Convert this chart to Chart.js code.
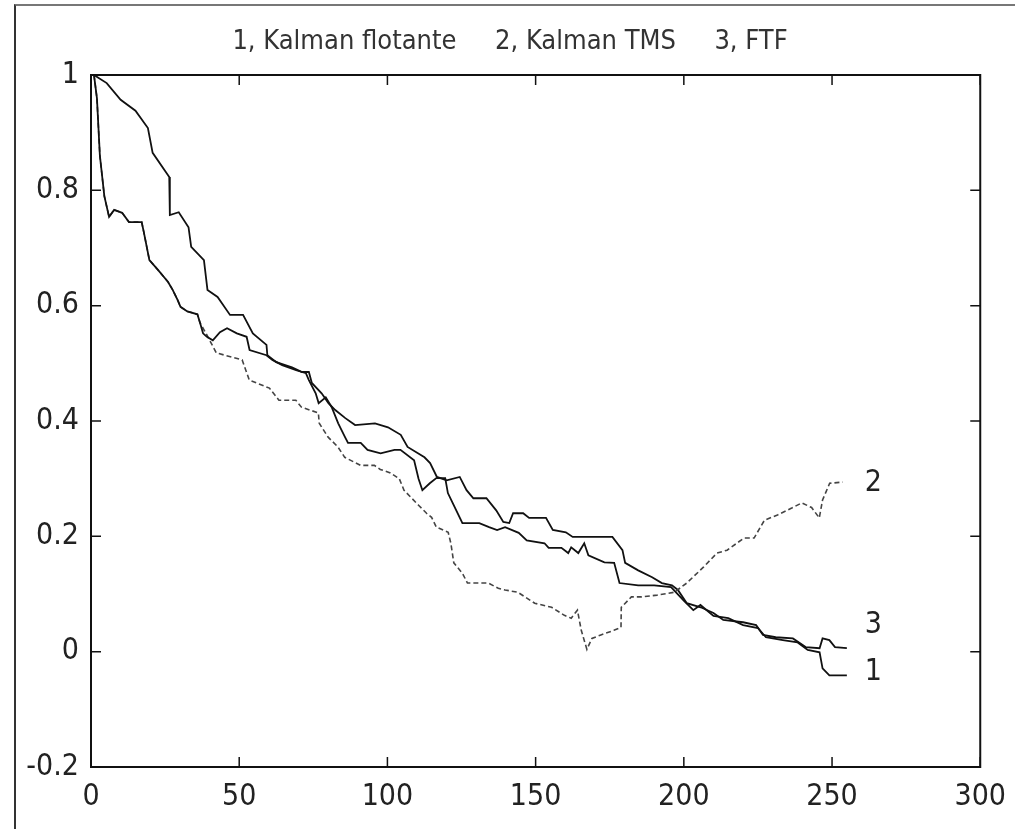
<!DOCTYPE html>
<html>
<head>
<meta charset="utf-8">
<script src="https://cdn.jsdelivr.net/npm/chart.js@4.4.1/dist/chart.umd.min.js"></script>
<style>
    html, body { margin: 0; padding: 0; background: #fff; }
    #caixa { position: relative; width: 1018px; height: 832px; }
    #moldura { position: absolute; left: 14px; top: 4px; right: 3px; bottom: 3px;
               border-left: 2px solid #333; border-top: 2px solid #777; }
    canvas { position: absolute; left: 0; top: 0; }
</style>
</head>
<body>
<div id="caixa">
    <div id="moldura"></div>
    <canvas id="graficoKalman" width="1018" height="832"></canvas>
</div>
<script>
// Eixos
const xTicks = [0, 50, 100, 150, 200, 250, 300];
const yTicks = [-0.2, 0, 0.2, 0.4, 0.6, 0.8, 1];

const titulo = "1, Kalman flotante     2, Kalman TMS     3, FTF";

// 1 - Kalman flotante
const x1 = [1, 2, 3, 4.5, 6.1, 7.8, 10.5, 12.8, 17.1, 17.8, 19.7, 22.6, 26, 27.6, 29.2, 30.2, 32.5, 35.9,
    36.8, 37.8, 39.1, 41.1, 43.5, 45.9, 49.2, 52.5, 53.5, 59.2, 61.2, 64.5, 69.2, 72.5, 73.5, 75.8, 76.8,
    79.2, 81.2, 83.4, 85.7, 86.7, 91, 93.3, 97.7, 102.4, 104.4, 109, 110.5, 111.8, 114.3, 116.5, 119.5,
    120.4, 122, 125.3, 131, 134.3, 137, 139.7, 144.3, 147, 153, 154.4, 158.7, 161, 162, 164.4, 166.4,
    167.8, 173.2, 176.5, 178.3, 184.6, 190, 195.7, 199.9, 203.2, 205.6, 210, 215, 220, 225, 227.7,
    233.4, 238.4, 241.8, 245.8, 246.8, 249.1, 255];
const y1 = [1.0, 0.96, 0.86, 0.79, 0.754, 0.766, 0.761, 0.745, 0.745, 0.728, 0.679, 0.662, 0.641, 0.627, 0.61, 0.598, 0.59, 0.585,
    0.57, 0.552, 0.546, 0.54, 0.554, 0.561, 0.552, 0.546, 0.523, 0.514, 0.506, 0.497, 0.488, 0.483, 0.471, 0.448, 0.431,
    0.441, 0.424, 0.396, 0.372, 0.362, 0.362, 0.35, 0.344, 0.35, 0.35, 0.332, 0.30, 0.28, 0.292, 0.301, 0.301,
    0.275, 0.258, 0.223, 0.223, 0.216, 0.211, 0.216, 0.206, 0.193, 0.188, 0.18, 0.18, 0.171, 0.181, 0.171, 0.188,
    0.167, 0.155, 0.154, 0.119, 0.115, 0.115, 0.112, 0.089, 0.072, 0.081, 0.062, 0.058, 0.046, 0.041, 0.025,
    0.02, 0.016, 0.003, -0.001, -0.029, -0.041, -0.041];

// 2 - Kalman TMS
const x2 = [1, 2, 3, 4.5, 6.1, 7.8, 10.5, 12.8, 17.1, 17.8, 19.7, 22.6, 26, 27.6, 29.2, 30.2, 32.5, 35.9,
    36.8, 39, 42.3, 51, 53.4, 60.2, 63.4, 69.1, 71, 76.7, 77, 80, 83.3, 85.6, 91, 95.6, 97.6, 101, 104,
    105.6, 110.5, 113.2, 114.9, 116.5, 120.5, 121.4, 122.4, 125.3, 127, 134, 137.4, 139.7, 144, 149.7,
    155.4, 159.7, 162, 164.1, 165.4, 167.3, 169, 172, 176.4, 178.8, 178.9, 182.3, 185.7, 191, 196.8,
    201, 206.7, 211.2, 214.6, 220.3, 223.7, 227.2, 231.6, 236.4, 239.8, 243.1, 245.7, 246.8, 249.2, 253.6];
const y2 = [1.0, 0.96, 0.86, 0.79, 0.754, 0.766, 0.761, 0.745, 0.745, 0.728, 0.679, 0.662, 0.641, 0.627, 0.61, 0.598, 0.59, 0.585,
    0.57, 0.55, 0.518, 0.506, 0.471, 0.457, 0.436, 0.436, 0.424, 0.414, 0.396, 0.372, 0.355, 0.337, 0.323, 0.323, 0.316, 0.31, 0.3,
    0.28, 0.254, 0.24, 0.233, 0.216, 0.207, 0.188, 0.154, 0.136, 0.119, 0.119, 0.11, 0.107, 0.103, 0.084,
    0.077, 0.063, 0.058, 0.072, 0.037, 0.004, 0.023, 0.029, 0.037, 0.042, 0.077, 0.095, 0.095, 0.098, 0.103,
    0.119, 0.147, 0.171, 0.176, 0.197, 0.197, 0.228, 0.237, 0.249, 0.258, 0.25, 0.232, 0.263, 0.292, 0.294];

// 3 - FTF
const x3 = [1, 5.3, 10, 15, 19.2, 20.8, 26.4, 26.6, 29.6, 32.9, 33.8, 38.1, 39.3, 42.7, 46.9, 51.3, 54.6,
    59.2, 59.5, 62.5, 67.8, 71.2, 73.5, 74.5, 77.8, 80.1, 82.4, 85.8, 89.1, 95.8, 100.2, 104.5, 106.8,
    112.5, 114.4, 116.7, 120, 124.4, 126.7, 129, 133.4, 136.7, 139.1, 141.1, 142.4, 145.8, 147.8, 153.5,
    155.8, 160.2, 162.5, 175.9, 179.3, 180.2, 184.6, 189.3, 192.6, 196, 198, 201, 205.7, 210, 213.3,
    220, 224.4, 226.7, 231, 236.8, 241.1, 245.8, 246.8, 249.1, 251, 255];
const y3 = [1.0, 0.986, 0.957, 0.938, 0.908, 0.865, 0.823, 0.757, 0.762, 0.736, 0.702, 0.679, 0.627, 0.615, 0.584, 0.584, 0.552,
    0.532, 0.514, 0.502, 0.493, 0.485, 0.485, 0.466, 0.448, 0.431, 0.419, 0.405, 0.393, 0.396, 0.389, 0.376, 0.355,
    0.337, 0.327, 0.303, 0.297, 0.303, 0.28, 0.266, 0.266, 0.245, 0.225, 0.223, 0.24, 0.24, 0.232, 0.232,
    0.211, 0.207, 0.199, 0.199, 0.176, 0.154, 0.141, 0.129, 0.119, 0.115, 0.107, 0.084, 0.077, 0.067, 0.055,
    0.051, 0.046, 0.029, 0.025, 0.023, 0.008, 0.006, 0.023, 0.02, 0.008, 0.006];

// rótulos das curvas (1, 2, 3) no fim de cada uma
const rotulos = ["1", "2", "3"];
const rotuloX = [261, 261, 261];
const rotuloY = [-0.036, 0.293, 0.046];

const fonte = "'Liberation Sans Narrow', 'DejaVu Sans Condensed', 'Liberation Sans', sans-serif";

function pontos(xs, ys) {
    return xs.map((x, i) => ({ x: x, y: ys[i] }));
}

// moldura, marcas internas, título e rótulos
const marcas = {
    id: "marcas",
    afterDraw(chart) {
        const ctx = chart.ctx;
        const a = chart.chartArea;
        const sx = chart.scales.x;
        const sy = chart.scales.y;
        ctx.save();
        ctx.strokeStyle = "#111";
        ctx.lineWidth = 2;
        ctx.strokeRect(a.left, a.top, a.right - a.left, a.bottom - a.top);
        ctx.lineWidth = 1.5;
        ctx.beginPath();
        sx.ticks.forEach(t => {
            const px = sx.getPixelForValue(t.value);
            ctx.moveTo(px, a.bottom); ctx.lineTo(px, a.bottom - 10);
            ctx.moveTo(px, a.top); ctx.lineTo(px, a.top + 10);
        });
        sy.ticks.forEach(t => {
            const py = sy.getPixelForValue(t.value);
            ctx.moveTo(a.left, py); ctx.lineTo(a.left + 10, py);
            ctx.moveTo(a.right, py); ctx.lineTo(a.right - 10, py);
        });
        ctx.stroke();

        ctx.fillStyle = "#333";
        ctx.font = "27px " + fonte;
        ctx.textAlign = "center";
        ctx.textBaseline = "middle";
        ctx.fillText(titulo, 510, 42);

        ctx.fillStyle = "#222";
        ctx.font = "30px " + fonte;
        ctx.textAlign = "left";
        rotulos.forEach((r, i) => {
            ctx.fillText(r, sx.getPixelForValue(rotuloX[i]), sy.getPixelForValue(rotuloY[i]));
        });
        ctx.restore();
    }
};

const serie = (dados, cor, largura, traco) => ({
    data: dados,
    borderColor: cor,
    borderWidth: largura,
    borderDash: traco,
    pointRadius: 0,
    fill: false,
    tension: 0
});

const canvas = document.getElementById("graficoKalman");

new Chart(canvas, {
    type: "line",
    data: {
        datasets: [
            serie(pontos(x1, y1), "#111", 1.8, []),
            serie(pontos(x2, y2), "#444", 1.6, [5, 3]),
            serie(pontos(x3, y3), "#111", 1.8, [])
        ]
    },
    options: {
        responsive: false,
        animation: false,
        layout: { padding: { left: 0, top: 75, right: 33, bottom: 0 } },
        plugins: { legend: { display: false }, tooltip: { enabled: false } },
        scales: {
            x: {
                type: "linear",
                min: 0,
                max: 300,
                afterBuildTicks: s => { s.ticks = xTicks.map(v => ({ value: v })); },
                afterFit: s => { s.height = 65; },
                grid: { display: false, drawTicks: false },
                border: { display: false },
                ticks: { color: "#222", padding: 12, maxRotation: 0,
                         font: { family: fonte, size: 30 }, callback: v => String(v) }
            },
            y: {
                type: "linear",
                min: -0.2,
                max: 1,
                afterBuildTicks: s => { s.ticks = yTicks.map(v => ({ value: v })); },
                afterFit: s => { s.width = 91; },
                grid: { display: false, drawTicks: false },
                border: { display: false },
                ticks: { color: "#222", padding: 12,
                         font: { family: fonte, size: 30 }, callback: v => String(v) }
            }
        }
    },
    plugins: [marcas]
});
</script>
</body>
</html>
